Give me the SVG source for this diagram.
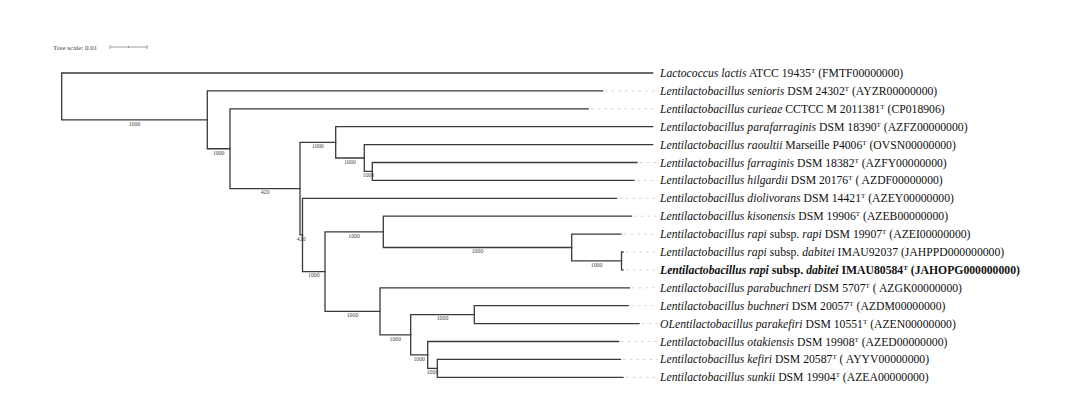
<svg xmlns="http://www.w3.org/2000/svg" width="1080" height="396" viewBox="0 0 1080 396">
<style>
.br{fill:none;stroke:#3a3a3a;stroke-width:1.3;stroke-linecap:square}
.ds{fill:none;stroke:#c8c8c8;stroke-width:0.8;stroke-dasharray:2.5,4.2}
.bs{font-family:"Liberation Serif","Times New Roman",serif;font-size:5.8px;fill:#444;text-anchor:middle}
.lb{font-family:"Liberation Serif","Times New Roman",serif;font-size:11.7px;fill:#111}
.lb .i{font-style:italic}
.lb .s{font-size:7px}
.bold{font-weight:bold}
.sc{font-family:"Liberation Serif","Times New Roman",serif;font-size:7px;fill:#444}
.sb{fill:none;stroke:#888;stroke-width:0.8}
</style>
<rect width="1080" height="396" fill="#fff"/>
<g id="scale">
<text class="sc" x="53" y="49.5">Tree scale: 0.01</text>
<path class="sb" d="M110,47H147M110,45V49M147,45V49M128.5,46V48"/>
</g>
<g id="connectors">
<path class="br" d="M61.7,73V119.8M61.7,73H652.7M61.7,119.8H207.3"/>
<path class="br" d="M207.3,90.9V148.75M207.3,90.9H602.7M207.3,148.75H230"/>
<path class="br" d="M230,108.8V188.7M230,108.8H588.3M230,188.7H300"/>
<path class="br" d="M300,142.4V234.95M300,142.4H335.7M300,234.95H302.5"/>
<path class="br" d="M335.7,126.7V158M335.7,126.7H652.7M335.7,158H364.3"/>
<path class="br" d="M364.3,144.6V171.45M364.3,144.6H652.7M364.3,171.45H372.3"/>
<path class="br" d="M372.3,162.5V180.4M372.3,162.5H637M372.3,180.4H634"/>
<path class="br" d="M302.5,198.3V271.6M302.5,198.3H616.5M302.5,271.6H325"/>
<path class="br" d="M325,231.9V311.3M325,231.9H383.3M325,311.3H380"/>
<path class="br" d="M383.3,216.2V247.5M383.3,216.2H631.5M383.3,247.5H571.7"/>
<path class="br" d="M571.7,234.1V260.95M571.7,234.1H621M571.7,260.95H621.5"/>
<path class="br" d="M621.5,252V269.9M621.5,252H623M621.5,269.9H623"/>
<path class="br" d="M380,287.8V334.8M380,287.8H629.5M380,334.8H410.7"/>
<path class="br" d="M410.7,314.65V354.9M410.7,314.65H474.3M410.7,354.9H427.7"/>
<path class="br" d="M474.3,305.7V323.6M474.3,305.7H628.3M474.3,323.6H639"/>
<path class="br" d="M427.7,341.5V368.35M427.7,341.5H618.5M427.7,368.35H437.3"/>
<path class="br" d="M437.3,359.4V377.3M437.3,359.4H620.5M437.3,377.3H623"/>
<path class="ds" d="M605,90.9H658M591,108.8H658M640,162.5H658M637,180.4H658M619,198.3H658M634,216.2H658M624,234.1H658M626,252H658M626,269.9H658M632,287.8H658M631,305.7H658M642,323.6H658M621,341.5H658M623,359.4H658M626,377.3H658"/>
</g>
<g id="bootstrap">
<text class="bs" x="134.5" y="125.5">1000</text>
<text class="bs" x="218.7" y="154.5">1000</text>
<text class="bs" x="265" y="194.4">420</text>
<text class="bs" x="317.9" y="148.1">1000</text>
<text class="bs" x="350" y="163.7">1000</text>
<text class="bs" x="368.3" y="177.1">1000</text>
<text class="bs" x="301.2" y="240.6">420</text>
<text class="bs" x="313.8" y="277.3">1000</text>
<text class="bs" x="354.1" y="237.6">1000</text>
<text class="bs" x="477.5" y="253.2">1000</text>
<text class="bs" x="596.6" y="266.6">1000</text>
<text class="bs" x="352.5" y="317">1000</text>
<text class="bs" x="395.3" y="340.5">1000</text>
<text class="bs" x="442.5" y="320.3">1000</text>
<text class="bs" x="419.2" y="360.6">1000</text>
<text class="bs" x="432.5" y="374">1000</text>
</g>
<g id="leaves">
<g id="n0"><text class="lb" x="660" y="77"><tspan class="i">Lactococcus lactis</tspan> ATCC 19435<tspan class="s" dy="-4">T</tspan><tspan dy="4"> (FMTF00000000)</tspan></text></g>
<g id="n1"><text class="lb" x="660" y="94.9"><tspan class="i">Lentilactobacillus senioris</tspan> DSM 24302<tspan class="s" dy="-4">T</tspan><tspan dy="4"> (AYZR00000000)</tspan></text></g>
<g id="n2"><text class="lb" x="660" y="112.8"><tspan class="i">Lentilactobacillus curieae</tspan> CCTCC M 2011381<tspan class="s" dy="-4">T</tspan><tspan dy="4"> (CP018906)</tspan></text></g>
<g id="n3"><text class="lb" x="660" y="130.7"><tspan class="i">Lentilactobacillus parafarraginis</tspan> DSM 18390<tspan class="s" dy="-4">T</tspan><tspan dy="4"> (AZFZ00000000)</tspan></text></g>
<g id="n4"><text class="lb" x="660" y="148.6"><tspan class="i">Lentilactobacillus raoultii</tspan> Marseille P4006<tspan class="s" dy="-4">T</tspan><tspan dy="4"> (OVSN00000000)</tspan></text></g>
<g id="n5"><text class="lb" x="660" y="166.5"><tspan class="i">Lentilactobacillus farraginis</tspan> DSM 18382<tspan class="s" dy="-4">T</tspan><tspan dy="4"> (AZFY00000000)</tspan></text></g>
<g id="n6"><text class="lb" x="660" y="184.4"><tspan class="i">Lentilactobacillus hilgardii</tspan> DSM 20176<tspan class="s" dy="-4">T</tspan><tspan dy="4"> ( AZDF00000000)</tspan></text></g>
<g id="n7"><text class="lb" x="660" y="202.3"><tspan class="i">Lentilactobacillus diolivorans</tspan> DSM 14421<tspan class="s" dy="-4">T</tspan><tspan dy="4"> (AZEY00000000)</tspan></text></g>
<g id="n8"><text class="lb" x="660" y="220.2"><tspan class="i">Lentilactobacillus kisonensis</tspan> DSM 19906<tspan class="s" dy="-4">T</tspan><tspan dy="4"> (AZEB00000000)</tspan></text></g>
<g id="n9"><text class="lb" x="660" y="238.1"><tspan class="i">Lentilactobacillus rapi</tspan> subsp. <tspan class="i">rapi</tspan> DSM 19907<tspan class="s" dy="-4">T</tspan><tspan dy="4"> (AZEI00000000)</tspan></text></g>
<g id="n10"><text class="lb" x="660" y="256"><tspan class="i">Lentilactobacillus rapi</tspan> subsp. <tspan class="i">dabitei</tspan> IMAU92037 (JAHPPD000000000)</text></g>
<g id="n11"><text class="lb bold" x="660" y="273.9"><tspan class="i">Lentilactobacillus rapi</tspan> subsp. <tspan class="i">dabitei</tspan> IMAU80584<tspan class="s" dy="-4">T</tspan><tspan dy="4"> (JAHOPG000000000)</tspan></text></g>
<g id="n12"><text class="lb" x="660" y="291.8"><tspan class="i">Lentilactobacillus parabuchneri</tspan> DSM 5707<tspan class="s" dy="-4">T</tspan><tspan dy="4"> ( AZGK00000000)</tspan></text></g>
<g id="n13"><text class="lb" x="660" y="309.7"><tspan class="i">Lentilactobacillus buchneri</tspan> DSM 20057<tspan class="s" dy="-4">T</tspan><tspan dy="4"> (AZDM00000000)</tspan></text></g>
<g id="n14"><text class="lb" x="660" y="327.6"><tspan class="i">OLentilactobacillus parakefiri</tspan> DSM 10551<tspan class="s" dy="-4">T</tspan><tspan dy="4"> (AZEN00000000)</tspan></text></g>
<g id="n15"><text class="lb" x="660" y="345.5"><tspan class="i">Lentilactobacillus otakiensis</tspan> DSM 19908<tspan class="s" dy="-4">T</tspan><tspan dy="4"> (AZED00000000)</tspan></text></g>
<g id="n16"><text class="lb" x="660" y="363.4"><tspan class="i">Lentilactobacillus kefiri</tspan> DSM 20587<tspan class="s" dy="-4">T</tspan><tspan dy="4"> ( AYYV00000000)</tspan></text></g>
<g id="n17"><text class="lb" x="660" y="381.3"><tspan class="i">Lentilactobacillus sunkii</tspan> DSM 19904<tspan class="s" dy="-4">T</tspan><tspan dy="4"> (AZEA00000000)</tspan></text></g>
</g>
</svg>
